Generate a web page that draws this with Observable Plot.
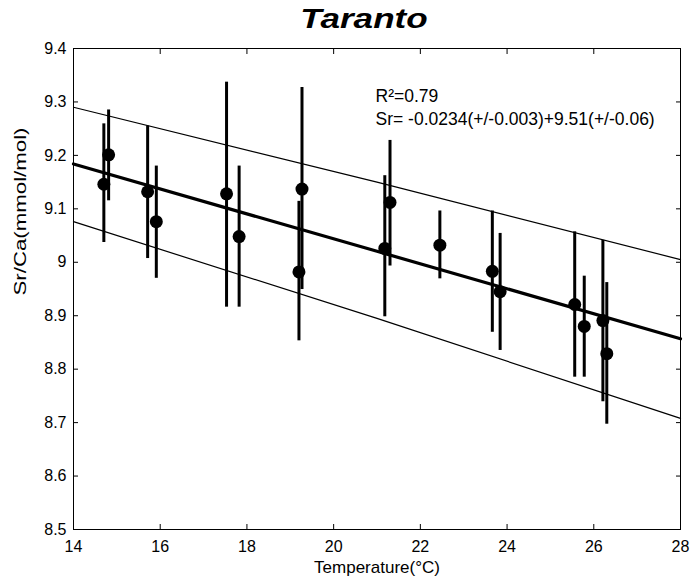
<!DOCTYPE html>
<html>
<head>
<meta charset="utf-8">
<script src="https://cdn.jsdelivr.net/npm/d3@7"></script>
<script src="https://cdn.jsdelivr.net/npm/@observablehq/plot@0.6"></script>
<style>
  html, body { margin: 0; padding: 0; background: #fff; }
  body { width: 690px; height: 582px; overflow: hidden; font-family: Arial, "Liberation Sans", sans-serif; }
  #title { position: relative; width: 690px; height: 40px; }
  #title span { position: absolute; left: 364px; top: 6px; font-size: 27px; line-height: 27px; font-weight: bold; font-style: italic; color: #000; white-space: nowrap; transform: translateX(-50%) scaleX(1.3); }
  svg text { fill: #000; }
</style>
</head>
<body>
<div id="title"><span>Taranto</span></div>
<div id="chart"></div>
<script>
// Data
const temperature = [14.70, 14.81, 15.71, 15.91, 17.53, 17.82, 19.27, 19.20, 21.18, 21.30, 22.45, 23.66, 23.84, 25.56, 25.78, 26.21, 26.30];
const srca        = [9.146, 9.201, 9.132, 9.076, 9.128, 9.048, 9.137, 8.982, 9.026, 9.112, 9.032, 8.983, 8.945, 8.921, 8.880, 8.891, 8.829];
const srcaLow     = [9.037, 9.115, 9.007, 8.970, 8.916, 8.916, 8.949, 8.853, 8.898, 8.993, 8.969, 8.869, 8.835, 8.785, 8.785, 8.739, 8.697];
const srcaHigh    = [9.259, 9.285, 9.255, 9.180, 9.337, 9.180, 9.327, 9.114, 9.162, 9.228, 9.096, 9.096, 9.054, 9.057, 8.974, 9.041, 8.962];

const fitT     = [14, 21, 28];
const fitY     = [9.184, 9.0205, 8.857];
const upperY   = [9.290, 9.150, 9.005];
const lowerY   = [9.076, 8.895, 8.708];

const xTicks = [14, 16, 18, 20, 22, 24, 26, 28];
const yTicks = [8.5, 8.6, 8.7, 8.8, 8.9, 9, 9.1, 9.2, 9.3, 9.4];

const annotationLines = ["R\u00B2=0.79", "Sr= -0.0234(+/-0.003)+9.51(+/-0.06)"];
const xLabel = "Temperature(\u00B0C)";
const yLabel = "Sr/Ca(mmol/mol)";

const points = temperature.map((t, i) => ({t, v: srca[i], lo: srcaLow[i], hi: srcaHigh[i]}));
const fit = fitT.map((t, i) => ({t, v: fitY[i]}));
const upper = fitT.map((t, i) => ({t, v: upperY[i]}));
const lower = fitT.map((t, i) => ({t, v: lowerY[i]}));

const font = 'Arial, "Liberation Sans", sans-serif';

const chart = Plot.plot({
  width: 690,
  height: 542,
  marginLeft: 73,
  marginRight: 10,
  marginTop: 8,
  marginBottom: 53,
  style: {fontFamily: font, fontSize: "16px", color: "#000", background: "#fff"},
  x: {domain: [14, 28], axis: null},
  y: {domain: [8.5, 9.4], axis: null},
  marks: [
    Plot.line(upper, {x: "t", y: "v", stroke: "#000", strokeWidth: 1.2}),
    Plot.line(lower, {x: "t", y: "v", stroke: "#000", strokeWidth: 1.2}),
    Plot.line(fit, {x: "t", y: "v", stroke: "#000", strokeWidth: 3.2}),
    Plot.ruleX(points, {x: "t", y1: "lo", y2: "hi", stroke: "#000", strokeWidth: 3}),
    Plot.dot(points, {x: "t", y: "v", r: 6.5, fill: "#000", stroke: "none"}),
    Plot.frame({stroke: "#000"}),
    Plot.axisX({anchor: "bottom", label: null, ticks: xTicks, tickSize: -5, tickPadding: 16, tickFormat: String, fontSize: 16}),
    Plot.axisX({anchor: "top", label: null, ticks: xTicks, tickSize: -5, tickFormat: () => ""}),
    Plot.axisY({anchor: "left", label: null, ticks: yTicks, tickSize: -5, tickPadding: 12, tickFormat: String, fontSize: 16}),
    Plot.axisY({anchor: "right", label: null, ticks: yTicks, tickSize: -5, tickFormat: () => ""}),
    Plot.text([annotationLines[0]], {frameAnchor: "top-left", dx: 302, dy: 40.8, textAnchor: "start", fontSize: 17.5}),
    Plot.text([annotationLines[1]], {frameAnchor: "top-left", dx: 302, dy: 63.7, textAnchor: "start", fontSize: 17.5}),
    Plot.text([xLabel], {frameAnchor: "bottom", dy: 43.5, fontSize: 17}),
    Plot.text([yLabel], {frameAnchor: "left", dx: -53, dy: 6.5, rotate: -90, fontSize: 16})
  ]
});

document.getElementById("chart").appendChild(chart);

// stretch the y label to match the reference proportions
d3.select(chart).selectAll("text").filter(function () { return this.textContent === yLabel; })
  .attr("textLength", 168).attr("lengthAdjust", "spacingAndGlyphs");
</script>
</body>
</html>
